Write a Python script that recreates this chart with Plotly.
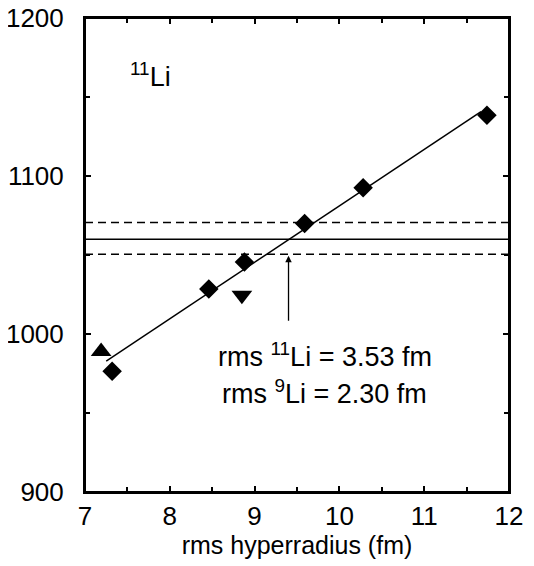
import plotly.graph_objects as go

# data
diam_x = [7.32, 8.46, 8.88, 9.59, 10.28, 11.74]
diam_y = [976.5, 1028.5, 1045.5, 1070.0, 1092.5, 1138.5]
tri_up_x = [7.19]
tri_up_y = [989.0]
tri_dn_x = [8.85]
tri_dn_y = [1024.5]
fit_x = [7.25, 11.67]
fit_y = [982.9, 1140.7]
h_center = 1060.0
h_low = 1050.5
h_high = 1070.5
arrow_x = 9.40
arrow_y = [1007.5, 1049.5]
x_range = [7, 12]
y_range = [900, 1200]
y_tickvals = [900, 1000, 1100, 1200]
y_ticktext = ["900", "1000", "1100", "1200"]
x_tickvals = [7, 8, 9, 10, 11, 12]

FONT = "Liberation Sans, Arial, sans-serif"

fig = go.Figure()

# horizontal lines
fig.add_trace(go.Scatter(x=x_range, y=[h_high, h_high], mode="lines",
                         line=dict(color="black", width=1.5, dash="8px,5px"), showlegend=False))
fig.add_trace(go.Scatter(x=x_range, y=[h_center, h_center], mode="lines",
                         line=dict(color="black", width=1.5), showlegend=False))
fig.add_trace(go.Scatter(x=x_range, y=[h_low, h_low], mode="lines",
                         line=dict(color="black", width=1.5, dash="8px,5px"), showlegend=False))
# fit line
fig.add_trace(go.Scatter(x=fit_x, y=fit_y, mode="lines",
                         line=dict(color="black", width=1.5), showlegend=False))
# markers
fig.add_trace(go.Scatter(x=diam_x, y=diam_y, mode="markers",
                         marker=dict(symbol="diamond", size=15, color="black"), showlegend=False))
fig.add_trace(go.Scatter(x=tri_up_x, y=tri_up_y, mode="markers",
                         marker=dict(symbol="triangle-up", size=18, color="black"), showlegend=False))
fig.add_trace(go.Scatter(x=tri_dn_x, y=tri_dn_y, mode="markers",
                         marker=dict(symbol="triangle-down", size=18, color="black"), showlegend=False))

# arrow
fig.add_annotation(x=arrow_x, y=arrow_y[1], ax=arrow_x, ay=arrow_y[0],
                   xref="x", yref="y", axref="x", ayref="y",
                   showarrow=True, arrowhead=2, arrowsize=1, arrowwidth=1.3,
                   arrowcolor="black", text="")

fig.add_annotation(x=9.83, y=986.5, xref="x", yref="y", showarrow=False,
                   text="rms <sup>11</sup>Li = 3.53 fm",
                   font=dict(family=FONT, size=27, color="black"))
fig.add_annotation(x=9.83, y=963.0, xref="x", yref="y", showarrow=False,
                   text="rms <sup>9</sup>Li = 2.30 fm",
                   font=dict(family=FONT, size=27, color="black"))
fig.add_annotation(x=7.77, y=1164, xref="x", yref="y", showarrow=False,
                   text="<sup>11</sup>Li",
                   font=dict(family=FONT, size=27, color="black"))

# frame around the plotting area
fig.add_shape(type="rect", xref="paper", yref="paper", x0=0, y0=0, x1=1, y1=1,
              line=dict(color="black", width=2), fillcolor="rgba(0,0,0,0)", layer="above")

fig.update_xaxes(range=x_range, tickvals=x_tickvals, ticks="inside", ticklen=6,
                 tickwidth=1.5, tickcolor="black", automargin=False, ticklabeloverflow="allow",
                 minor=dict(dtick=0.5, ticks="inside", ticklen=5, tickwidth=1.5, tickcolor="black"),
                 showline=True, linecolor="black", linewidth=2, mirror="ticks",
                 showgrid=False, zeroline=False,
                 tickfont=dict(family=FONT, size=26, color="black"),
                 title=dict(text="rms hyperradius (fm)", font=dict(family=FONT, size=25, color="black"),
                            standoff=6))
fig.update_yaxes(range=y_range, tickvals=y_tickvals, ticktext=y_ticktext, ticks="inside", ticklen=6,
                 tickwidth=1.5, tickcolor="black", automargin=False, ticklabeloverflow="allow",
                 minor=dict(dtick=50, ticks="inside", ticklen=5, tickwidth=1.5, tickcolor="black"),
                 showline=True, linecolor="black", linewidth=2, mirror="ticks",
                 showgrid=False, zeroline=False, ticklabelstandoff=14,
                 tickfont=dict(family=FONT, size=26, color="black"))

fig.update_layout(width=526, height=558, margin=dict(l=77, r=25, t=10, b=74),
                  plot_bgcolor="white", paper_bgcolor="white")

fig.write_html("out.html")
